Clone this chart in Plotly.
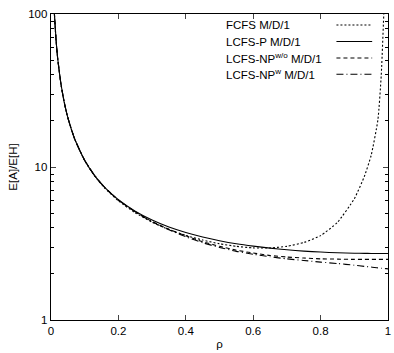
import plotly.graph_objects as go

rho = [0.009, 0.01, 0.015, 0.02, 0.03, 0.04, 0.05, 0.07, 0.1, 0.13, 0.16, 0.2, 0.25,
       0.3, 0.35, 0.4, 0.45, 0.5, 0.55, 0.6, 0.65, 0.7, 0.75, 0.8, 0.85, 0.9,
       0.93, 0.95, 0.97, 0.98, 0.99, 0.995, 1.0]

fcfs = [112.0, 101.0, 67.7, 51.0, 34.3, 26.0, 21.0, 15.3, 11.0, 8.70, 7.26, 6.01, 5.02,
        4.36, 3.90, 3.57, 3.33, 3.15, 3.03, 2.96, 2.96, 3.03, 3.21, 3.56, 4.35, 6.2,
        8.7, 11.9, 20.3, 40.0, 140.0, 300.0, 1000.0]

lcfs_p = [112.0, 101.0, 67.7, 51.0, 34.4, 26.0, 21.0, 15.3, 11.05, 8.76, 7.33, 6.11, 5.14,
          4.50, 4.05, 3.73, 3.49, 3.30, 3.15, 3.04, 2.95, 2.88, 2.82, 2.78, 2.75, 2.73,
          2.727, 2.722, 2.720, 2.719, 2.718, 2.718, 2.718]

lcfs_np_wo = [112.0, 101.0, 67.7, 51.0, 34.4, 26.0, 21.0, 15.3, 11.05, 8.76, 7.33, 6.09, 5.10,
              4.40, 3.92, 3.55, 3.25, 3.03, 2.86, 2.74, 2.64, 2.58, 2.54, 2.51, 2.50, 2.49,
              2.49, 2.49, 2.49, 2.49, 2.49, 2.49, 2.49]

lcfs_np_w = [112.0, 101.0, 67.7, 51.0, 34.4, 26.0, 21.0, 15.3, 11.05, 8.76, 7.33, 6.08, 5.09,
             4.38, 3.89, 3.50, 3.20, 2.98, 2.81, 2.69, 2.59, 2.51, 2.45, 2.39, 2.34, 2.28,
             2.24, 2.22, 2.19, 2.18, 2.17, 2.165, 2.16]

series_names = ["FCFS M/D/1", "LCFS-P M/D/1", "LCFS-NP<sup>w/o</sup> M/D/1", "LCFS-NP<sup>w</sup> M/D/1"]
series_values = [fcfs, lcfs_p, lcfs_np_wo, lcfs_np_w]
series_dash = ["2px,2px", "solid", "4px,3px", "7px,3px,1px,3px"]

x_ticks = [0, 0.2, 0.4, 0.6, 0.8, 1]
x_tick_labels = ["0", "0.2", "0.4", "0.6", "0.8", "1"]
y_ticks = [1, 10, 100]
y_tick_labels = ["1", "10", "100"]
y_minor_ticks = [2, 3, 4, 5, 6, 7, 8, 9, 20, 30, 40, 50, 60, 70, 80, 90]

FONT = "Liberation Sans, Arial, Helvetica, sans-serif"

fig = go.Figure()
for name, vals, dash in zip(series_names, series_values, series_dash):
    fig.add_trace(go.Scatter(x=rho, y=vals, mode="lines", name=name,
                             line=dict(color="black", width=1.1, dash=dash, shape="spline", smoothing=0.5),
                             showlegend=False, hoverinfo="skip"))

# legend (gnuplot style: text left, sample on right)
row_y = [0.964, 0.910, 0.856, 0.803]
for name, dash, yy in zip(series_names, series_dash, row_y):
    fig.add_annotation(x=0.512, y=yy, xref="paper", yref="paper", text=name, showarrow=False,
                       xanchor="left", yanchor="middle", font=dict(size=11.5, color="black", family=FONT))
    fig.add_shape(type="line", xref="paper", yref="paper", x0=0.847, x1=0.953, y0=yy, y1=yy,
                  line=dict(color="black", width=1.1, dash=dash))

fig.update_xaxes(range=[0, 1], tickvals=x_ticks, ticktext=x_tick_labels, ticks="inside", ticklen=5,
                 mirror="allticks", showline=True, linecolor="black", linewidth=1.3, showgrid=False,
                 zeroline=False, tickfont=dict(size=11.5, color="black", family=FONT),
                 ticklabeloverflow="allow",
                 title=dict(text="ρ", font=dict(size=11.5, color="black", family=FONT), standoff=4))
fig.update_yaxes(type="log", range=[0, 2], tickvals=y_ticks, ticktext=y_tick_labels, ticks="inside", ticklen=5,
                 mirror="allticks", showline=True, linecolor="black", linewidth=1.3, showgrid=False,
                 zeroline=False, tickfont=dict(size=11.5, color="black", family=FONT),
                 minor=dict(ticks="inside", ticklen=3, showgrid=False, tickcolor="black",
                            tickmode="array", tickvals=y_minor_ticks),
                 title=dict(text="E[A]/E[H]", font=dict(size=11.5, color="black", family=FONT), standoff=8))

fig.update_layout(width=394, height=353, margin=dict(l=51, r=3, t=14, b=33),
                  plot_bgcolor="white", paper_bgcolor="white", showlegend=False)

fig.write_html("out.html", config={"displayModeBar": False, "staticPlot": True},
               post_script="document.body.style.margin='0';document.body.style.overflow='hidden';")
